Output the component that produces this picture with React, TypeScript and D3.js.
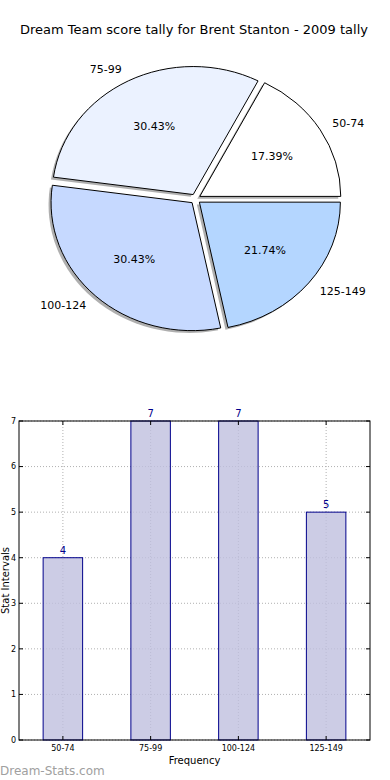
import React from "react";
import * as d3 from "d3";

const categories = ["50-74", "75-99", "100-124", "125-149"];
const counts = [4, 7, 7, 5];
const sliceColors = ["#ffffff", "#ebf2ff", "#c6d9ff", "#b4d6ff"];
const yTicks = [0, 1, 2, 3, 4, 5, 6, 7];

const title = "Dream Team score tally for Brent Stanton - 2009 tally";
const font = "DejaVu Sans, sans-serif";

const App = () => {
    // pie geometry (matplotlib-style: counter-clockwise from 3 o'clock, stretched to an ellipse)
    const cx = 195.5, cy = 199, rx = 141, ry = 128, explode = 5;
    const total = d3.sum(counts);
    const pie = d3.pie<number>().sort(null)
        .startAngle(Math.PI / 2).endAngle(Math.PI / 2 - 2 * Math.PI);
    const arcs = pie(counts);
    const arc = d3.arc<d3.PieArcDatum<number>>().innerRadius(0).outerRadius(1);

    // bar chart geometry
    const margin = {left: 19, right: 20, top: 421, bottom: 40};
    const x = d3.scaleLinear().domain([-0.5, 3.5]).range([margin.left, 390 - margin.right]);
    const y = d3.scaleLinear().domain([0, 7]).range([780 - margin.bottom, margin.top]);
    const barW = x(0.45) - x(0);

    return (
        <svg width={390} height={780} style={{position: "absolute", left: 0, top: 0, background: "#fff"}}
             fontFamily={font}>
            <text x={194} y={34} textAnchor="middle" fontSize={13}>{title}</text>

            {arcs.map((a, i) => {
                const mid = (a.startAngle + a.endAngle) / 2;
                const dx = Math.sin(mid), dy = -Math.cos(mid);
                const ox = cx + explode * dx, oy = cy + explode * dy;
                return (
                    <path key={"s" + i} d={arc(a) as string}
                          transform={`translate(${ox - 2.5},${oy + 2.3}) scale(${rx},${ry})`}
                          fill="#4d4d4d" fillOpacity={0.45} stroke="none"/>
                );
            })}
            {arcs.map((a, i) => {
                const mid = (a.startAngle + a.endAngle) / 2;
                const dx = Math.sin(mid), dy = -Math.cos(mid);
                const ox = cx + explode * dx, oy = cy + explode * dy;
                const pct = (100 * counts[i] / total).toFixed(2) + "%";
                return (
                    <g key={"p" + i}>
                        <path d={arc(a) as string} transform={`translate(${ox},${oy}) scale(${rx},${ry})`}
                              fill={sliceColors[i]} stroke="#000" strokeWidth={1}
                              vectorEffect="non-scaling-stroke"/>
                        <text x={ox + 0.6 * rx * dx} y={oy + 0.6 * ry * dy} dy="0.35em"
                              textAnchor="middle" fontSize={11}>{pct}</text>
                        <text x={ox + 1.1 * rx * dx} y={oy + 1.1 * ry * dy} dy="0.35em"
                              textAnchor={dx > 0 ? "start" : "end"} fontSize={11}>{categories[i]}</text>
                    </g>
                );
            })}

            {/* grid */}
            <g stroke="#b0b0b0" strokeWidth={1} strokeDasharray="1,2">
                {yTicks.map(t => (
                    <line key={"gy" + t} x1={x(-0.5)} x2={x(3.5)} y1={y(t)} y2={y(t)}/>
                ))}
                {categories.map((c, i) => (
                    <line key={"gx" + i} x1={x(i)} x2={x(i)} y1={y(0)} y2={y(7)}/>
                ))}
            </g>

            {/* bars */}
            {counts.map((v, i) => (
                <g key={"b" + i}>
                    <rect x={x(i) - barW / 2} y={y(v)} width={barW} height={y(0) - y(v)}
                          fill="#bfbfdf" fillOpacity={0.8} stroke="#00008b" strokeWidth={1}/>
                    <text x={x(i)} y={y(v) - 4} textAnchor="middle" fontSize={10} fill="#00008b">{v}</text>
                </g>
            ))}

            {/* frame and ticks */}
            <rect x={x(-0.5)} y={y(7)} width={x(3.5) - x(-0.5)} height={y(0) - y(7)}
                  fill="none" stroke="#000" strokeWidth={1}/>
            {yTicks.map(t => (
                <g key={"ty" + t}>
                    <line x1={x(-0.5)} x2={x(-0.5) + 4} y1={y(t)} y2={y(t)} stroke="#000"/>
                    <line x1={x(3.5)} x2={x(3.5) - 4} y1={y(t)} y2={y(t)} stroke="#000"/>
                    <text x={x(-0.5) - 3} y={y(t)} dy="0.35em" textAnchor="end" fontSize={8}>{t}</text>
                </g>
            ))}
            {categories.map((c, i) => (
                <g key={"tx" + i}>
                    <line x1={x(i)} x2={x(i)} y1={y(0)} y2={y(0) - 4} stroke="#000"/>
                    <line x1={x(i)} x2={x(i)} y1={y(7)} y2={y(7) + 4} stroke="#000"/>
                    <text x={x(i)} y={y(0) + 11} textAnchor="middle" fontSize={8}>{c}</text>
                </g>
            ))}
            <text x={x(1.5)} y={764} textAnchor="middle" fontSize={10}>Frequency</text>
            <text transform={`translate(9,${(y(0) + y(7)) / 2}) rotate(-90)`} textAnchor="middle"
                  fontSize={10}>Stat Intervals</text>

            <text x={0} y={775} fontSize={12} fill="#a0a0a0">Dream-Stats.com</text>
        </svg>
    );
};

export default App;
